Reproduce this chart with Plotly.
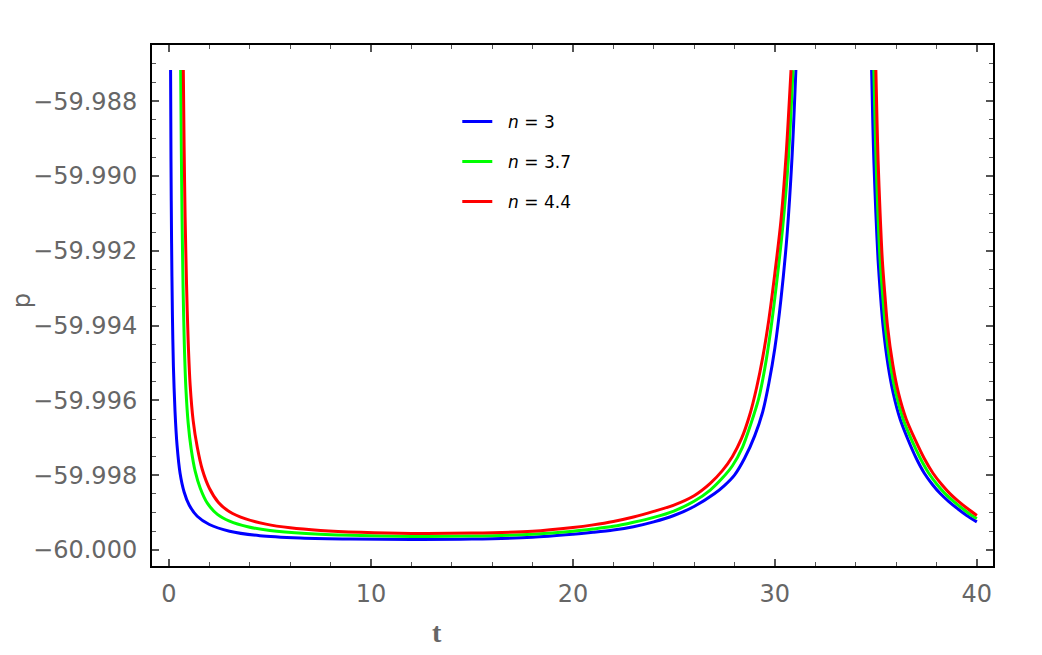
import plotly.graph_objects as go

# ---- data: t values and p values; None separates the two branches ----
t_n3 = [0.08, 0.10, 0.13, 0.17, 0.22, 0.30, 0.40, 0.55, 0.75, 1.0, 1.4, 2.0, 3.0, 4.5, 6.5, 9.0,
        12.0, 15.0, 18.0, 20.0, 21.0, 22.0, 23.0, 24.0, 25.0, 26.0, 27.0, 27.5, 28.0, 28.5, 29.0,
        29.4, 29.7, 30.0, 30.3, 30.6, 30.85, 31.04,
        None,
        34.79, 34.85, 34.9, 35.0, 35.11, 35.23, 35.36, 35.6, 35.86, 36.2, 36.6, 37.0, 37.4, 37.8,
        38.2, 38.6, 39.1, 39.5, 40.0]
p_n3 = [-59.98717, -59.98960, -59.99180, -59.99370, -59.99510, -59.99630, -59.99720, -59.99795,
        -59.99845, -59.99880, -59.99910, -59.99932, -59.99950, -59.99962, -59.99968, -59.99971,
        -59.99972, -59.99971, -59.99966, -59.99958, -59.99953, -59.99947, -59.99938, -59.99925,
        -59.99908, -59.99884, -59.99850, -59.99828, -59.99800, -59.99755, -59.99695, -59.99630,
        -59.99555, -59.99460, -59.99330, -59.99160, -59.98950, -59.98717,
        None,
        -59.98717, -59.98860, -59.98958, -59.99100, -59.99225, -59.99320, -59.99403, -59.99505,
        -59.99581, -59.99650, -59.99706, -59.99755, -59.99795, -59.99825, -59.99850, -59.99870,
        -59.99892, -59.99908, -59.99925]

t_n37 = [0.58, 0.61, 0.65, 0.70, 0.76, 0.84, 0.95, 1.1, 1.3, 1.55, 1.9, 2.4, 3.0, 3.9, 5.0, 6.8,
         9.0, 12.0, 15.0, 18.0, 20.0, 21.0, 22.0, 23.0, 24.0, 25.0, 26.0, 26.8, 27.4, 27.9, 28.4,
         28.8, 29.2, 29.5, 29.8, 30.1, 30.4, 30.65, 30.9,
         None,
         34.9, 34.96, 35.01, 35.1, 35.21, 35.34, 35.47, 35.72, 35.99, 36.35, 36.77, 37.2, 37.62,
         38.03, 38.44, 38.85, 39.35, 39.75, 40.0]
p_n37 = [-59.98717, -59.98920, -59.99120, -59.99300, -59.99450, -59.99570, -59.99660, -59.99730,
         -59.99790, -59.99835, -59.99875, -59.99905, -59.99923, -59.99938, -59.99948, -59.99956,
         -59.99961, -59.99964, -59.99963, -59.99958, -59.99950, -59.99944, -59.99937, -59.99926,
         -59.99913, -59.99896, -59.99870, -59.99840, -59.99808, -59.99775, -59.99725, -59.99665,
         -59.99595, -59.99515, -59.99410, -59.99280, -59.99130, -59.98970, -59.98717,
         None,
         -59.98717, -59.98860, -59.98958, -59.99100, -59.99225, -59.99320, -59.99403, -59.99505,
         -59.99581, -59.99650, -59.99706, -59.99755, -59.99795, -59.99825, -59.99850, -59.99870,
         -59.99892, -59.99908, -59.99916]

t_n44 = [0.71, 0.75, 0.80, 0.87, 0.95, 1.05, 1.2, 1.4, 1.65, 2.0, 2.45, 3.0, 3.8, 4.8, 6.0, 7.5,
         9.5, 12.0, 15.0, 18.0, 20.0, 21.0, 22.0, 23.0, 24.0, 25.0, 26.0, 26.8, 27.4, 27.9, 28.35,
         28.75, 29.1, 29.4, 29.7, 30.0, 30.3, 30.55, 30.8,
         None,
         35.0, 35.06, 35.11, 35.21, 35.32, 35.45, 35.58, 35.84, 36.12, 36.5, 36.95, 37.39, 37.83,
         38.26, 38.68, 39.09, 39.6, 40.0]
p_n44 = [-59.98717, -59.98920, -59.99110, -59.99290, -59.99440, -59.99560, -59.99655, -59.99725,
         -59.99785, -59.99835, -59.99873, -59.99898, -59.99917, -59.99931, -59.99941, -59.99948,
         -59.99953, -59.99956, -59.99955, -59.99950, -59.99940, -59.99933, -59.99924, -59.99912,
         -59.99897, -59.99880, -59.99855, -59.99822, -59.99788, -59.99750, -59.99702, -59.99640,
         -59.99565, -59.99485, -59.99385, -59.99260, -59.99120, -59.98950, -59.98717,
         None,
         -59.98717, -59.98860, -59.98958, -59.99100, -59.99225, -59.99320, -59.99403, -59.99505,
         -59.99581, -59.99650, -59.99706, -59.99755, -59.99795, -59.99825, -59.99850, -59.99870,
         -59.99892, -59.99908]

series_names = ["\u00a0\u00a0<i>n</i> = 3", "\u00a0\u00a0<i>n</i> = 3.7", "\u00a0\u00a0<i>n</i> = 4.4"]
series_colors = ["#0000FF", "#00FF00", "#FF0000"]

x_tickvals = [0, 10, 20, 30, 40]
y_tickvals = [-60.000, -59.998, -59.996, -59.994, -59.992, -59.990, -59.988]

fig = go.Figure()
for i, (tx, py) in enumerate([(t_n3, p_n3), (t_n37, p_n37), (t_n44, p_n44)]):
    fig.add_trace(go.Scatter(
        x=tx, y=py, mode="lines", name=series_names[i], legendgroup=f"g{i}",
        line=dict(color=series_colors[i], width=3, shape="spline", smoothing=0.8),
        connectgaps=False,
    ))

tick_font = dict(family="DejaVu Sans, Verdana, sans-serif", size=24, color="#666666")
axis_common = dict(
    showline=True, linecolor="black", linewidth=2, mirror="ticks",
    ticks="inside", ticklen=7, tickwidth=1.5, tickcolor="#555555",
    showgrid=False, zeroline=False, tickfont=tick_font,
)

fig.update_xaxes(range=[-0.84, 40.8], tickvals=x_tickvals, ticklabelstandoff=5,
                 minor=dict(dtick=2, tick0=0, ticks="inside", ticklen=4, tickwidth=1.2,
                            tickcolor="#555555", showgrid=False),
                 **axis_common)
fig.update_yaxes(range=[-60.00043, -59.9865], tickvals=y_tickvals, tickformat=".3f",
                 ticklabelstandoff=8,
                 minor=dict(dtick=0.0005, tick0=-60, ticks="inside", ticklen=4, tickwidth=1.2,
                            tickcolor="#555555", showgrid=False),
                 **axis_common)

fig.add_annotation(text="p", xref="paper", yref="paper", x=-0.1546, y=0.51,
                   xanchor="center", yanchor="middle", textangle=-90, showarrow=False,
                   font=dict(family="DejaVu Sans, Verdana, sans-serif", size=24, color="#666666"))
fig.add_annotation(text="<b>t</b>", xref="paper", yref="paper", x=0.339, y=-0.127,
                   xanchor="center", yanchor="middle", showarrow=False,
                   font=dict(family="Liberation Serif, Times New Roman, serif",
                             size=28, color="#666666"))

fig.update_layout(
    width=1042, height=655,
    margin=dict(l=152, r=49, t=45, b=89, autoexpand=False),
    paper_bgcolor="white", plot_bgcolor="white",
    showlegend=True,
    legend=dict(x=0.363, y=0.887, xanchor="left", yanchor="top", bgcolor="rgba(0,0,0,0)",
                font=dict(family="DejaVu Sans, Verdana, sans-serif", size=17, color="black"),
                tracegroupgap=15),
)

fig.write_html("out.html")
